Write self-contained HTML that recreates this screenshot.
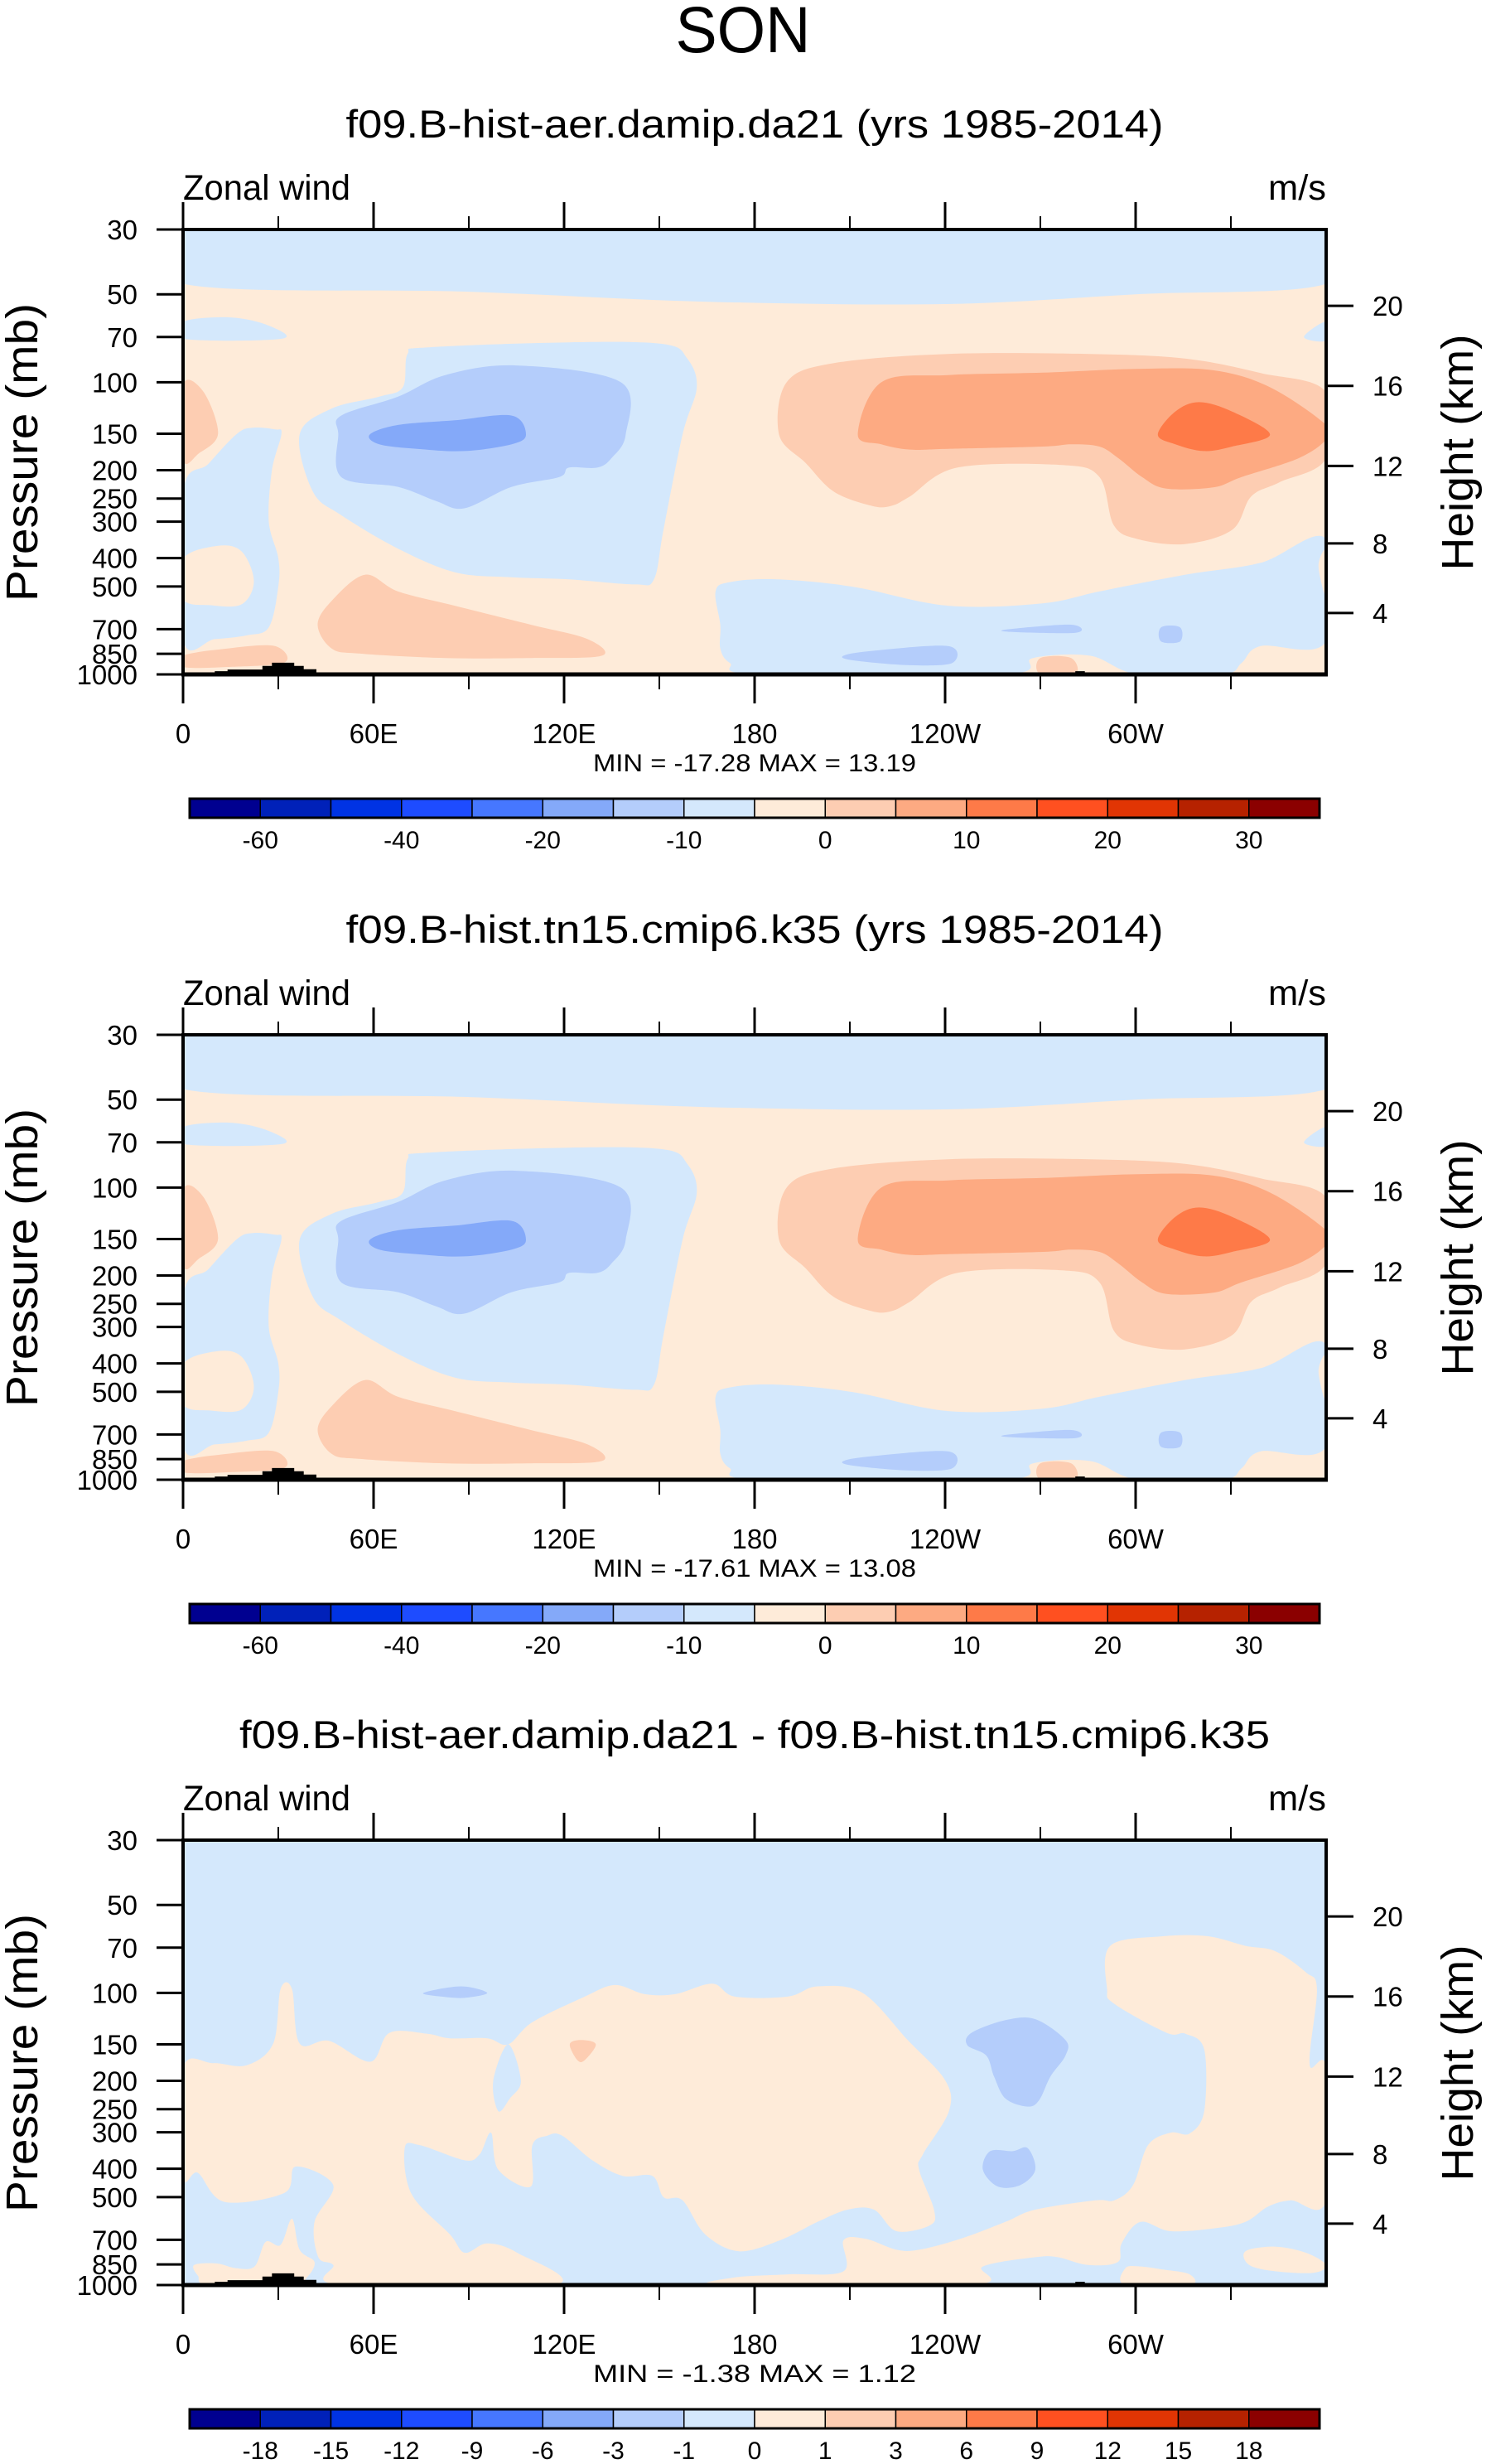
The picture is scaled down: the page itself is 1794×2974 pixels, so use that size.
<!DOCTYPE html>
<html><head><meta charset="utf-8"><title>SON Zonal wind</title>
<style>html,body{margin:0;padding:0;background:#fff}svg{display:block}text{font-family:"Liberation Sans",Arial,sans-serif;fill:#000}</style>
</head><body>
<svg id="fig" xmlns="http://www.w3.org/2000/svg" width="1794" height="2974" viewBox="0 0 1794 2974">
<rect x="0" y="0" width="1794" height="2974" fill="#fff"/>
<text x="897" y="63" font-size="79" text-anchor="middle" textLength="163" lengthAdjust="spacingAndGlyphs">SON</text>
</svg>
<script>
// ---- data ----
const colors = ['#000090','#0021B9','#0033E4','#1E4CFF','#4677FF','#84A9F9','#B4CDFB','#D4E8FC','#FEEBD9','#FDCDB2','#FDAA82','#FE7A48','#FF5020','#E13504','#B62200','#8B0000'];
const pressureTicks = [30,50,70,100,150,200,250,300,400,500,700,850,1000];
const heightTicks = [20,16,12,8,4];
const lonMajor = [0,60,120,180,240,300];
const lonLabels = ['0','60E','120E','180','120W','60W'];
const lonMinor = [30,90,150,210,270,330];
const cbLabels1 = ['-60','','-40','','-20','','-10','','0','','10','','20','','30'];
const cbLabels3 = ['-18','-15','-12','-9','-6','-3','-1','0','1','3','6','9','12','15','18'];
const titles = ['f09.B-hist-aer.damip.da21 (yrs 1985-2014)','f09.B-hist.tn15.cmip6.k35 (yrs 1985-2014)','f09.B-hist-aer.damip.da21 - f09.B-hist.tn15.cmip6.k35'];
const minmax = ['MIN = -17.28  MAX =  13.19','MIN = -17.61  MAX =  13.08','MIN =  -1.38  MAX =   1.12'];

// contour regions (level index, [lon, pressure] outline) for panels 1 & 2
const mean_bg = 8;
const meanRegions = [
 [7,[[0,30],[360,30],[360,46],[300,50],[240,54],[165,53],[90,49],[0,46]]],
 [7,[[0,62],[15,60],[27,64],[31,71],[0,71]]],
 [7,[[360,62],[353,70],[360,72]]],
 [7,[[0,237],[8,190],[17,150],[22,143],[29,145],[31,150],[28,200],[27,300],[30,400],[30,500],[27,690],[20,735],[10,757],[0,760]]],
 [8,[[0,402],[11,363],[18.5,380],[22.3,480],[18.5,575],[9,580],[0,552]]],
 [9,[[0,102],[6.5,108],[11,150],[5,175],[0,184]]],
 [7,[[70.7,80],[76.7,76],[121.5,73],[151.3,74],[158.8,83],[161.8,104],[157.3,151],[151.3,320],[148.3,473],[142.3,492],[121.5,473],[103.5,465],[85.6,447],[67.7,371],[49.8,285],[40.9,237],[36.7,151],[46.8,123],[61.8,112],[69.2,104]]],
 [6,[[48.9,151],[49.8,130],[67.7,112],[82.6,94.5],[105,87.6],[137.9,100],[139.4,151],[134.9,182],[130.4,196],[121.5,196],[118.5,211],[103.5,228],[88.6,270],[79.7,255],[67.7,228],[49.8,211]]],
 [5,[[58.8,151],[67.7,140],[85.6,135],[103.5,130],[108,151],[103.5,163],[88.6,172],[73.7,169],[61.8,163]]],
 [9,[[190.1,100],[205,86],[240.9,80],[285.6,80],[315.5,83],[339.4,93],[360,108],[360,182],[345.3,220],[336.4,246],[330.4,320],[315.5,358],[300.6,344],[293.1,308],[288.6,211],[276.7,192],[243.8,196],[228.9,246],[223,265],[217,265],[205,237],[196.1,189],[187.7,151]]],
 [10,[[219.9,100],[240.9,94.5],[270.7,92.7],[300.6,90],[324.4,91],[342.3,104],[360,140],[360,157],[351.3,182],[333.4,211],[324.4,229],[309.5,231],[302,211],[294.6,182],[288.6,166],[279.7,163],[270.7,166],[240.9,169],[228.9,170],[219.9,163],[212.5,151]]],
 [11,[[307,151],[312.5,126],[320,117],[330.4,126],[342.3,151],[330.4,166],[321.5,172],[312.5,163]]],
 [9,[[42.4,676],[46.8,560],[57.3,456],[67.7,520],[85.6,582],[109.5,676],[127.4,757],[131.9,863],[109.5,879],[82.6,879],[55.8,849],[46.8,815]]],
 [9,[[0,863],[14,815],[28.9,800],[31.9,910],[14,943],[0,943]]],
 [7,[[167.7,520],[172.2,483],[187.1,473],[211,501],[240.9,582],[270.7,571],[288.6,520],[315.5,456],[339.4,415],[360,344],[360,771],[339.4,800],[333.4,913],[327.4,1000],[300.6,1000],[285.6,863],[267.7,879],[258.8,1000],[181.2,1000],[172.2,913],[169.2,815],[169.2,676]]],
 [8,[[360,377],[357.6,425],[360,540]]],
 [6,[[208,863],[217,831],[240.9,800],[242.3,913],[229,930],[211,895]]],
 [6,[[260.2,700],[279.7,676],[281.2,720],[260.2,715]]],
 [6,[[308,690],[314,690],[314,771],[308,771]]],
 [9,[[270,879],[279.7,879],[281,1000],[270,1000]]]
];
// difference panel regions
const diff_bg = 7;
const diffRegions = [
 [8,[[0,181],[9.5,174],[20,177],[28.4,149],[30.7,97],[34.3,97],[36.7,149],[46,146],[59,172],[65,137],[76.9,138],[84,143],[95.8,143],[102.4,150],[110,126],[126.5,103],[136,94],[145.4,101],[155,101],[166.7,93],[173.8,103],[190.4,103],[199.8,95],[214,100],[228.2,145],[240,199],[241.2,254],[233,357],[231.8,403],[236.5,552],[235.3,624],[224.7,654],[217.6,552],[209.3,552],[199.8,608],[188,703],[175,766],[164.4,670],[157.3,513],[151.4,501],[147.8,423],[138.4,423],[128.9,374],[119.4,308],[114.7,308],[110,332],[109.5,460],[99.3,403],[97,301],[93.4,357],[88.7,374],[74.5,332],[69.8,340],[72,489],[84,670],[88.7,775],[95.8,720],[105.2,775],[117,1000],[49.7,1000],[47.3,854],[42.6,803],[41.4,608],[47.3,455],[35.5,393],[32,483],[13,519],[4.7,413],[0,423]]],
 [7,[[102.4,150],[106.4,200],[102.9,230],[99.3,254],[97.7,200]]],
 [9,[[121.8,150],[125.3,145],[130,150],[126.5,170],[124.2,170]]],
 [6,[[75.7,100],[87.5,95],[95.8,100],[88.7,104],[81.6,103]]],
 [8,[[292,69],[308.6,64],[322.8,64],[334.6,69],[344,72],[353.6,85],[357.1,97],[354.8,176],[360,181],[360,513],[348.8,513],[341.7,539],[334.6,608],[325.2,639],[311,654],[301.5,608],[295.6,720],[294.4,834],[285,854],[275.5,803],[268.4,803],[251.9,864],[248.3,1000],[170.3,1000],[173.8,942],[190.4,919],[208,897],[208,703],[215,695],[224.7,757],[231.8,757],[244.8,695],[259,608],[268.4,552],[287.3,513],[293.3,513],[299.2,455],[303.9,332],[311,301],[317,303],[321.6,254],[321.6,156],[315.7,138],[309.8,137],[293.3,109],[291,97]]],
 [6,[[248.3,137],[259,124],[268.4,123],[277.9,145],[277.9,164],[273.2,193],[269.6,233],[266,245],[259,230],[255.4,193],[253,164],[247,151]]],
 [6,[[254.2,348],[261.3,348],[266,340],[268.4,403],[263.7,455],[256.6,460],[251.9,403]]],
 [8,[[334.6,766],[344,739],[353.6,775],[360,854],[356,908],[344,897],[335.8,854]]],
 [8,[[296.8,875],[301.5,864],[308.6,885],[317,919],[317,1000],[296.8,1000]]],
 [8,[[3.5,854],[10.6,844],[16.6,875],[22.5,864],[26,712],[30.7,729],[34.3,593],[36.7,757],[41.4,834],[39,942],[34.3,1000],[8.3,1000],[4.7,930]]]
];
// topography (step outline, lon & surface pressure)
const terrain = [[10,1000],[10,975],[14,975],[14,962],[25,962],[25,935],[28,935],[28,912],[35,912],[35,935],[38,935],[38,960],[42,960],[42,985],[45,985],[45,1000],
 [100,1000],[100,988],[102,988],[102,1000],[281,1000],[281,975],[284,975],[284,988],[309,988],[309,1000]];

// ---- layout ----
const svg = document.getElementById('fig');
const NS = 'http://www.w3.org/2000/svg';
const PL = 221, PR = 1601, PH = 537, PW = PR - PL;
const panelTops = [277, 1249, 2221];
function xOf(lon){ return PL + lon/360*PW; }
function yOf(p, top){ return top + Math.log(p/30)/Math.log(1000/30)*PH; }
function pOfZ(km){ const z = km*1000; return z <= 11000 ? 1013.25*Math.pow(1-0.0065*z/288.15,5.2559) : 226.32*Math.exp(-(z-11000)/6341.6); }
function mk(tag, attrs, parent){ const e = document.createElementNS(NS, tag); for (const k in attrs) e.setAttribute(k, attrs[k]); (parent||svg).appendChild(e); return e; }
function smoothPath(pts){
  const n = pts.length; let d = 'M'+pts[0][0].toFixed(1)+','+pts[0][1].toFixed(1);
  for (let i=0;i<n;i++){
    const p0=pts[(i-1+n)%n], p1=pts[i], p2=pts[(i+1)%n], p3=pts[(i+2)%n];
    const c1=[p1[0]+(p2[0]-p0[0])/6, p1[1]+(p2[1]-p0[1])/6];
    const c2=[p2[0]-(p3[0]-p1[0])/6, p2[1]-(p3[1]-p1[1])/6];
    d += 'C'+c1[0].toFixed(1)+','+c1[1].toFixed(1)+' '+c2[0].toFixed(1)+','+c2[1].toFixed(1)+' '+p2[0].toFixed(1)+','+p2[1].toFixed(1);
  }
  return d+'Z';
}
function txt(x,y,s,size,anchor,parent,len){ const t = mk('text',{x:x,y:y,'font-size':size,'text-anchor':anchor||'start'},parent); if(len){t.setAttribute('textLength',len);t.setAttribute('lengthAdjust','spacingAndGlyphs');} t.textContent=s; return t; }

panelTops.forEach((top, k) => {
  const g = mk('g', {});
  
  
  const st = txt(911, top-111, titles[k], 47, 'middle', g, k===2 ? 1244 : 987);
  
  
  const zl = txt(PL, top-36, 'Zonal wind', 43, 'start', g, 202);
  
  
  const ul = txt(PR, top-36, 'm/s', 43, 'end', g, 70);
  
  
  // clip
  const cp = mk('clipPath', {id:'clip'+k}, g);
  mk('rect', {x:PL, y:top, width:PW, height:PH}, cp);
  const plot = mk('g', {'clip-path':'url(#clip'+k+')'}, g);
  
  
  const bgLev = k===2 ? diff_bg : mean_bg;
  const regions = k===2 ? diffRegions : meanRegions;
  mk('rect', {x:PL, y:top, width:PW, height:PH, fill:colors[bgLev]}, plot);
  regions.forEach(r => {
    const pts = r[1].map(q => [xOf(q[0]), yOf(q[1], top)]);
    const path = mk('path', {d:smoothPath(pts), fill:colors[r[0]]}, plot);
    
    
  });
  const ter = mk('path', {d:'M'+terrain.map(q => xOf(q[0]).toFixed(1)+','+yOf(q[1],top).toFixed(1)).join('L')+'Z', fill:'#000'}, plot);
  
  
  // frame
  const fr = mk('rect', {x:PL, y:top, width:PW, height:PH, fill:'none', stroke:'#000', 'stroke-width':4}, g);
  
  
  mk('line', {x1:PL-2, x2:PR+2, y1:top+PH, y2:top+PH, stroke:'#000', 'stroke-width':5}, g);
  // lon ticks
  lonMajor.forEach((lon, i) => {
    const x = xOf(lon);
    mk('line', {x1:x, x2:x, y1:top-33, y2:top, stroke:'#000', 'stroke-width':3}, g);
    mk('line', {x1:x, x2:x, y1:top+PH, y2:top+PH+35, stroke:'#000', 'stroke-width':3}, g);
    const t = txt(x, top+PH+83, lonLabels[i], 33, 'middle', g);
    
    
  });
  lonMinor.forEach(lon => {
    const x = xOf(lon);
    mk('line', {x1:x, x2:x, y1:top-16, y2:top, stroke:'#000', 'stroke-width':2}, g);
    mk('line', {x1:x, x2:x, y1:top+PH, y2:top+PH+18, stroke:'#000', 'stroke-width':2}, g);
  });
  // pressure ticks
  pressureTicks.forEach(p => {
    const y = yOf(p, top);
    mk('line', {x1:PL-32, x2:PL, y1:y, y2:y, stroke:'#000', 'stroke-width':3}, g);
    const t = txt(166, y+12, String(p), 33, 'end', g);
    
    
  });
  heightTicks.forEach(km => {
    const y = yOf(pOfZ(km), top);
    mk('line', {x1:PR, x2:PR+33, y1:y, y2:y, stroke:'#000', 'stroke-width':3}, g);
    const t = txt(1657, y+12, String(km), 33, 'start', g);
    
    
  });
  const yt = txt(0, 0, 'Pressure (mb)', 54, 'middle', g, 360);
  yt.setAttribute('transform', 'translate(45,'+(top+269)+') rotate(-90)');
  
  
  const ht = txt(0, 0, 'Height (km)', 54, 'middle', g, 285);
  ht.setAttribute('transform', 'translate(1778,'+(top+269)+') rotate(-90)');
  
  
  const mm = txt(911, top+PH+117, minmax[k], 30, 'middle', g, 390);
  
  
  // colorbar
  const cbTop = top + 687, cbL = 229, cbW = 1364, bw = cbW/16;
  const cb = mk('g', {}, g);
  
  
  colors.forEach((c, i) => {
    const b = mk('rect', {x:cbL+i*bw, y:cbTop, width:bw, height:23, fill:c, stroke:'#000', 'stroke-width':1.5}, cb);
    
    
  });
  mk('rect', {x:cbL, y:cbTop, width:cbW, height:23, fill:'none', stroke:'#000', 'stroke-width':3}, cb);
  const labs = k===2 ? cbLabels3 : cbLabels1;
  labs.forEach((s, i) => {
    if (!s) return;
    const t = txt(cbL+(i+1)*bw, cbTop+60, s, 30, 'middle', cb);
    
    
  });
});
</script>
</body></html>
